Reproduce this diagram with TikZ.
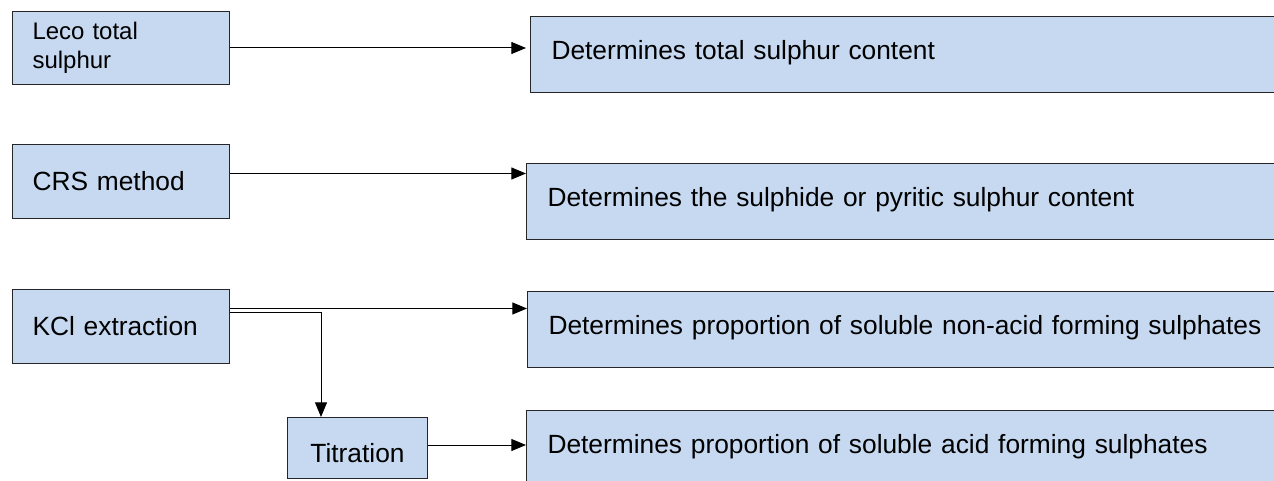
\documentclass[tikz,border=0pt]{standalone}
\usepackage{fontspec}
\setmainfont{Liberation Sans}
\usetikzlibrary{arrows.meta,calc}
\definecolor{boxfill}{HTML}{C6D9F0}
\definecolor{boxline}{HTML}{262626}

\begin{document}
\begin{tikzpicture}[
  x=0.75pt, y=-0.75pt,
  >={Triangle[length=11pt,width=9pt]},
  method/.style={draw=boxline, fill=boxfill, line width=0.75pt, anchor=north west, minimum height=55.5pt, text width=132.75pt, align=left, inner xsep=15pt, font=\fontsize{19.75}{24}\selectfont},
  result/.style={draw=boxline, fill=boxfill, line width=0.75pt, anchor=north west, minimum height=57pt, text width=568.5pt, align=left, inner xsep=15.75pt, text depth=6.2pt, font=\fontsize{19.75}{24}\selectfont},
  arr/.style={->, line width=0.75pt, color=black},
]
\useasboundingbox (0,0) rectangle (1274,481);
\clip (0,0) rectangle (1274,481);

% methods
\node[method, minimum height=54.75pt, font=\fontsize{18}{21.75}\selectfont] (leco) at (12,11) {Leco total\\sulphur};
\node[method] (crs) at (12,144) {CRS method};
\node[method] (kcl) at (12,289) {KCl extraction};
\node[method, text width=75pt, align=center, minimum height=45.75pt, text height=21pt, text depth=0pt] (titr) at (287,417) {Titration};

% results
\node[result] (det1) at (530,16) {Determines total sulphur content};
\node[result] (det2) at (526,163) {Determines the sulphide or pyritic sulphur content};
\node[result] (det3) at (527,291) {Determines proportion of soluble non-acid forming sulphates};
\node[result] (det4) at (526,410) {Determines proportion of soluble acid forming sulphates};

% connectors
\coordinate (c2) at ($(crs.east)+(0,-8)$);
\coordinate (k1) at ($(kcl.east)+(0,-18)$);
\coordinate (k2) at ($(kcl.east)+(0,-14)$);
\coordinate (t1) at ($(titr.east)+(0,-3)$);

\draw[arr, shorten >=3pt] (leco.east) -- (leco.east -| det1.west);
\draw[arr] (c2) -- (c2 -| det2.west);
\draw[arr] (k1) -- (k1 -| det3.west);
\draw[arr] (k2) -| ($(titr.north west)+(34,0)$);
\draw[arr] (t1) -- (t1 -| det4.west);

\end{tikzpicture}
\end{document}
